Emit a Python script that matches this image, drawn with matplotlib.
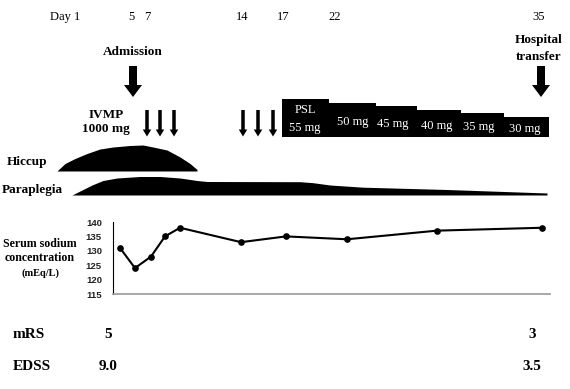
import matplotlib
matplotlib.use("Agg")
import matplotlib.pyplot as plt
import numpy as np
from matplotlib.patches import FancyArrow

# ---------------- data ----------------
day_labels = ["Day 1", "5", "7", "14", "17", "22", "35"]
day_label_x = [65, 131, 147, 242, 283, 335, 539]

sodium_values = [131, 124, 128, 135, 138, 133, 135, 134, 137, 138]
sodium_x = [120, 135, 151, 165, 180, 241, 286, 347, 437, 542]

psl_doses = [55, 50, 45, 40, 35, 30]
psl_edges = [282, 329, 376, 417, 461, 504, 549]

ivmp_x = [147, 160, 174, 243, 258, 273]

hiccup_x = [57, 65, 75, 87, 100, 113, 130, 143, 153, 167, 180, 190, 197]
hiccup_h = [0, 7.5, 12.5, 17.5, 22, 24, 25.5, 26, 24, 21, 14, 7.5, 1.5]

para_x = [72, 82, 92, 103, 117, 140, 160, 180, 197, 207, 300, 313, 330, 363, 447, 547]
para_h = [0, 5, 10, 14.5, 17, 18.5, 18.5, 17, 14.5, 13.5, 13.3, 12.3, 10, 7.8, 5.5, 2]

mrs_values = ["5", "3"]
edss_values = ["9.0", "3.5"]

# ---------------- figure ----------------
SERIF = "Liberation Serif"
W, H = 570, 389
fig = plt.figure(figsize=(W / 100, H / 100), dpi=100)
ax = fig.add_axes([0, 0, 1, 1])
ax.set_xlim(0, W)
ax.set_ylim(H, 0)
ax.axis("off")

# day labels
for lab, x in zip(day_labels, day_label_x):
    ax.text(x, 17, lab, ha="center", va="center", fontsize=9, family=SERIF)

# admission / transfer
ax.text(133, 52, "Admission", ha="center", va="center", fontsize=9.5,
        family=SERIF, fontweight="bold")
ax.text(539, 40, "Hospital", ha="center", va="center", fontsize=9.5,
        family=SERIF, fontweight="bold")
ax.text(539, 57, "transfer", ha="center", va="center", fontsize=9.5,
        family=SERIF, fontweight="bold")
for x in [133, 541]:
    ax.add_patch(FancyArrow(x, 66, 0, 31, width=8, head_width=18, head_length=12,
                            length_includes_head=True, color="black", lw=0))

# IVMP
ax.text(106, 115, "IVMP", ha="center", va="center", fontsize=9.5,
        family=SERIF, fontweight="bold")
ax.text(106, 129, "1000 mg", ha="center", va="center", fontsize=9.5,
        family=SERIF, fontweight="bold")
for x in ivmp_x:
    ax.add_patch(FancyArrow(x, 110, 0, 26.5, width=3.5, head_width=8.5, head_length=7,
                            length_includes_head=True, color="black", lw=0))

# PSL steps
bottom = 137
tops = [bottom - (d * 0.72 - 1.6) for d in psl_doses]
ax.fill_between(psl_edges, tops + [tops[-1]], bottom, step="post",
                color="black", lw=0)
label_y = [None, 122, 124, 126, 127, 129]
label_x = [305, 353, 393, 437, 479, 525]
ax.text(305, 110, "PSL", ha="center", va="center", fontsize=9,
        family=SERIF, color="white")
ax.text(305, 128, f"{psl_doses[0]} mg", ha="center", va="center", fontsize=9,
        family=SERIF, color="white")
for d, x, y in zip(psl_doses[1:], label_x[1:], label_y[1:]):
    ax.text(x, y, f"{d} mg", ha="center", va="center", fontsize=9,
            family=SERIF, color="white")

# symptom profiles
hb = 171
ax.fill_between(hiccup_x, hb, hb - np.array(hiccup_h), color="black", lw=0)
ax.text(27, 162, "Hiccup", ha="center", va="center", fontsize=9.5,
        family=SERIF, fontweight="bold")
pb = 195
ax.fill_between(para_x, pb, pb - np.array(para_h), color="black", lw=0)
ax.text(32, 190, "Paraplegia", ha="center", va="center", fontsize=9.5,
        family=SERIF, fontweight="bold")

# sodium axis labels
ax.text(40, 244, "Serum sodium", ha="center", va="center", fontsize=8.6,
        family=SERIF, fontweight="bold")
ax.text(40, 258, "concentration", ha="center", va="center", fontsize=8.6,
        family=SERIF, fontweight="bold")
ax.text(40, 273, "(mEq/L)", ha="center", va="center", fontsize=7.5,
        family=SERIF, fontweight="bold")

# mRS / EDSS
ax.text(13, 335, "mRS", ha="left", va="center", fontsize=11,
        family=SERIF, fontweight="bold")
ax.text(13, 367, "EDSS", ha="left", va="center", fontsize=11,
        family=SERIF, fontweight="bold")
for v, x in zip(mrs_values, [108, 532]):
    ax.text(x, 335, v, ha="center", va="center", fontsize=11,
            family=SERIF, fontweight="bold")
for v, x in zip(edss_values, [108, 532]):
    ax.text(x, 367, v, ha="center", va="center", fontsize=11,
            family=SERIF, fontweight="bold")

# sodium chart
x0, x1, ytop, ybot = 113, 550, 222, 294
sax = fig.add_axes([x0 / W, (H - ybot) / H, (x1 - x0) / W, (ybot - ytop) / H])
sax.set_xlim(x0, x1)
sax.set_ylim(115, 140)
sax.patch.set_alpha(0)
sax.plot(sodium_x, sodium_values, "-o", color="black", lw=1.5, ms=3.8, clip_on=False)
for s in ["top", "right"]:
    sax.spines[s].set_visible(False)
sax.spines["left"].set_color("black")
sax.spines["left"].set_linewidth(0.8)
sax.spines["bottom"].set_color("#9a9a9a")
sax.spines["bottom"].set_linewidth(1.2)
sax.set_xticks([])
sax.set_yticks(range(115, 141, 5))
sax.tick_params(axis="y", length=0, pad=8)
for t in sax.get_yticklabels():
    t.set_fontfamily("Liberation Sans")
    t.set_fontweight("bold")
    t.set_fontsize(6.8)
    t.set_color("#222222")

fig.savefig("out.png", dpi=100)
